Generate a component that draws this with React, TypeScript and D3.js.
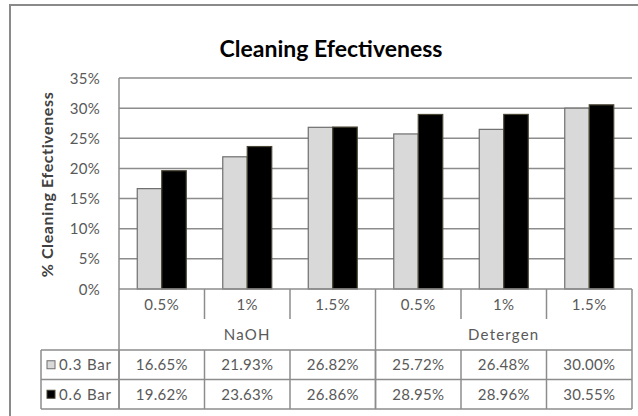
import React from "react";
import * as d3 from "d3";

const categories = ["0.5%", "1%", "1.5%", "0.5%", "1%", "1.5%"];
const groups = ["NaOH", "Detergen"];
const seriesNames = ["0.3 Bar", "0.6 Bar"];
const bar03 = [16.65, 21.93, 26.82, 25.72, 26.48, 30.0];
const bar06 = [19.62, 23.63, 26.86, 28.95, 28.96, 30.55];
const yTicks = [0, 5, 10, 15, 20, 25, 30, 35];

const W = 638, H = 416;
const plotL = 119, plotR = 632, plotT = 78, plotB = 289;
const tableL = 41, rowTop = 350, rowH = 29.5;
const FONT = "Lato, 'Open Sans', sans-serif";
const TXT = "#595959";
const LINE = "#8c8c8c";
const fills = ["#d9d9d9", "#000000"];
const strokes = ["#6e6e6e", "#4a4636"];

export default function App() {
  const idx = categories.map((_, i) => i);
  const x = d3.scaleBand<number>().domain(idx).range([plotL, plotR]).padding(0);
  const sub = d3.scaleBand<number>().domain([0, 1]).range([0, x.bandwidth()]).paddingInner(0).paddingOuter(0.745);
  const y = d3.scaleLinear().domain([0, 35]).range([plotB, plotT]);
  const series = [bar03, bar06];
  const step = x.step();

  return (
    <svg width={W} height={H} style={{ position: "absolute", left: 0, top: 0, background: "#fff" }}>
      <rect x={10} y={5} width={640} height={420} fill="#fff" stroke="#8a8a8a" strokeWidth={2} />
      <text x={331} y={57} textAnchor="middle" fontFamily={FONT} fontWeight="bold" fontSize={23} fill="#000">
        Cleaning Efectiveness
      </text>
      <text transform={`translate(53,${(plotT + plotB) / 2 + 1}) rotate(-90)`} textAnchor="middle" fontFamily={FONT} fontWeight="bold" fontSize={16} letterSpacing={0.6} fill="#404040">
        % Cleaning Efectiveness
      </text>
      {yTicks.map((t) => (
        <g key={t}>
          {t > 0 && <line x1={plotL} x2={plotR} y1={y(t)} y2={y(t)} stroke={LINE} strokeWidth={1.5} />}
          <text x={100} y={y(t) + 5.5} textAnchor="end" fontFamily={FONT} fontSize={15} letterSpacing={0.3} fill={TXT}>{t}%</text>
        </g>
      ))}
      {series.map((vals, s) =>
        vals.map((v, i) => (
          <rect key={`${s}-${i}`} x={(x(i) as number) + (sub(s) as number)} y={y(v)} width={sub.bandwidth()} height={plotB - y(v)}
            fill={fills[s]} stroke={strokes[s]} strokeWidth={1.2} />
        ))
      )}
      <line x1={plotL} x2={plotL} y1={plotT} y2={rowTop + 2 * rowH} stroke={LINE} strokeWidth={1.5} />
      <line x1={plotL} x2={plotR} y1={plotB} y2={plotB} stroke={LINE} strokeWidth={1.5} />
      <line x1={plotR} x2={plotR} y1={plotB} y2={rowTop + 2 * rowH} stroke={LINE} strokeWidth={1.5} />
      {idx.slice(1).map((i) => (
        <line key={i} x1={x(i) as number} x2={x(i) as number} y1={plotB} y2={i === 3 ? rowTop + 2 * rowH : plotB + 30} stroke={LINE} strokeWidth={1.5} />
      ))}
      {idx.map((i) => (
        <line key={`r${i}`} x1={x(i) as number} x2={x(i) as number} y1={rowTop} y2={rowTop + 2 * rowH} stroke={LINE} strokeWidth={1.5} />
      ))}
      {[0, 1, 2].map((r) => (
        <line key={`h${r}`} x1={tableL} x2={plotR} y1={rowTop + r * rowH} y2={rowTop + r * rowH} stroke={LINE} strokeWidth={1.5} />
      ))}
      <line x1={tableL} x2={tableL} y1={rowTop} y2={rowTop + 2 * rowH} stroke={LINE} strokeWidth={1.5} />
      {categories.map((c, i) => (
        <text key={`c${i}`} x={(x(i) as number) + step / 2} y={310} textAnchor="middle" fontFamily={FONT} fontSize={15} letterSpacing={0.5} fill={TXT}>{c}</text>
      ))}
      {groups.map((g, gi) => (
        <text key={g} x={(x(gi * 3) as number) + step * 1.5} y={340} textAnchor="middle" fontFamily={FONT} fontSize={15} fill={TXT} letterSpacing={1.2}>{g}</text>
      ))}
      {series.map((vals, s) => (
        <g key={`row${s}`}>
          <rect x={47} y={rowTop + s * rowH + rowH / 2 - 4} width={8} height={8} fill={fills[s]} stroke={strokes[s]} strokeWidth={1} />
          <text x={59} y={rowTop + s * rowH + rowH / 2 + 5.5} fontFamily={FONT} fontSize={15} letterSpacing={0.8} fill={TXT}>{seriesNames[s]}</text>
          {vals.map((v, i) => (
            <text key={i} x={(x(i) as number) + step / 2} y={rowTop + s * rowH + rowH / 2 + 5.5} textAnchor="middle" fontFamily={FONT} fontSize={15} letterSpacing={0.3} fill={TXT}>
              {v.toFixed(2)}%
            </text>
          ))}
        </g>
      ))}
    </svg>
  );
}
